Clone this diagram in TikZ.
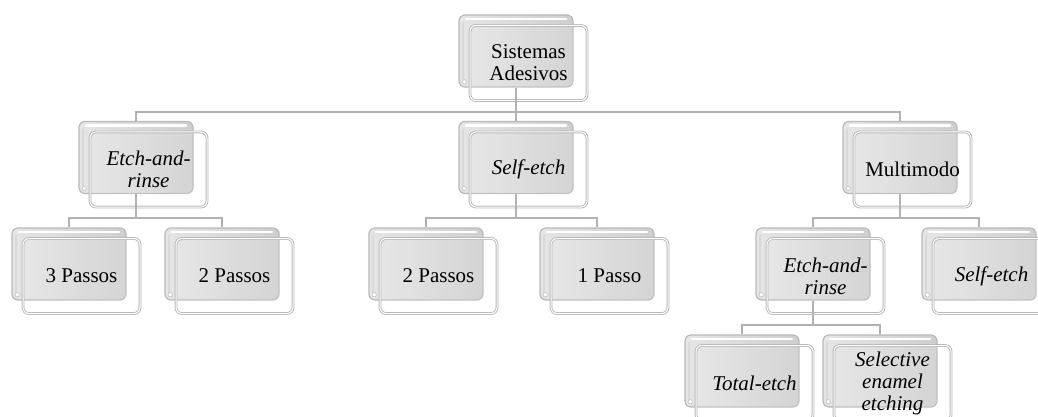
\documentclass[tikz,border=0pt]{standalone}
\usepackage{fontspec}
\setmainfont{Liberation Serif}
\begin{document}
\begin{tikzpicture}[x=0.5pt,y=-0.5pt,
    back/.style={rectangle,rounded corners=3pt,minimum width=57pt,minimum height=36pt,
        draw=gray!55,line width=0.6pt,left color=gray!20,right color=gray!38,
        path picture={
            \draw[white,line width=1.4pt,line cap=round]
                ([shift={(3.5pt,-2pt)}]path picture bounding box.north west) --
                ([shift={(-3.5pt,-2pt)}]path picture bounding box.north east);
            \draw[white!70!gray,line width=1.2pt,line cap=round]
                ([shift={(2pt,-4pt)}]path picture bounding box.north west) --
                ([shift={(2pt,4pt)}]path picture bounding box.south west);
            \filldraw[fill=white,draw=gray!50,line width=0.3pt]
                ([shift={(2.6pt,2.6pt)}]path picture bounding box.south west) circle (1.1pt);
        }},
    front/.style={rectangle,rounded corners=3pt,minimum width=58.5pt,minimum height=37.5pt,
        draw=gray!55,line width=0.45pt,double=white,double distance=0.5pt,
        fill=white,fill opacity=0.12,text opacity=1,align=center,inner sep=1pt,
        font=\fontsize{10.5}{11}\selectfont},
    link/.style={draw=gray!60,line width=1pt}
]
\useasboundingbox (0,0) rectangle (1038,417);
% boxes: back box (name) and front box (name-t)
\foreach \n/\x/\y/\t in {
    root/516/51/{Sistemas\\Adesivos},
    etch/136/157.5/{\textit{Etch-and-}\\\textit{rinse}},
    self/516/157.5/{\textit{Self-etch}},
    multi/900/157.5/{Multimodo},
    p3/69/264/{3 Passos},
    p2a/222/264/{2 Passos},
    p2b/426/264/{2 Passos},
    p1/597/264/{1 Passo},
    er/813/264/{\textit{Etch-and-}\\\textit{rinse}},
    se/979/264/{\textit{Self-etch}},
    total/742/371/{\textit{Total-etch}},
    sel/880/371/{\textit{Selective}\\\textit{enamel}\\\textit{etching}}}{
    \node[back] (\n) at (\x,\y) {};
    \node[front] (\n-t) at ([shift={(6.25pt,-6pt)}]\n.center) {\t};
}
% connectors
\foreach \a/\b in {root/etch,root/self,root/multi,etch/p3,etch/p2a,self/p2b,self/p1,
    multi/er,multi/se,er/total,er/sel}{
    \draw[link] (\a.south) -- ++(0,24) -| (\b.north);
}
\end{tikzpicture}
\end{document}
